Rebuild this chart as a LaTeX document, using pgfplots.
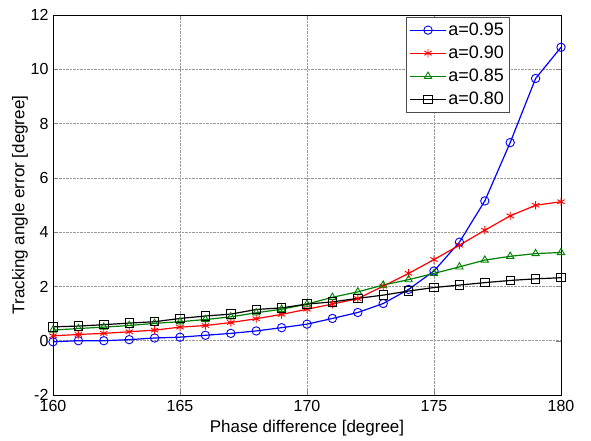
\documentclass[border=0pt]{standalone}
\usepackage{pgfplots}
\pgfplotsset{compat=1.18}
\usepackage{fontspec}
\setmainfont{Liberation Sans}
\definecolor{mgreen}{rgb}{0,0.5,0}
\begin{document}
\begin{tikzpicture}
\begin{axis}[
    scale only axis, width=508pt, height=380pt,
    xmin=160, xmax=180, ymin=-2, ymax=12,
    xtick={160,165,...,180}, ytick={-2,0,...,12},
    tick align=inside, major tick length=5pt,
    grid=major, grid style={densely dotted, gray!80, line width=0.6pt},
    axis line style={line width=0.6pt},
    font=\fontsize{16}{18}\selectfont,
    /pgf/number format/assume math mode=true,
    xticklabel style={yshift=-2pt},
    yticklabel style={xshift=-1pt},
    xlabel={Phase difference [degree]},
    ylabel={Tracking angle error [degree]},
    label style={font=\fontsize{17}{19}\selectfont},
    xlabel style={yshift=-1pt}, ylabel style={yshift=-4pt},
    legend style={at={(0.898,0.995)}, anchor=north east, draw=black!70,
        font=\fontsize{18}{20}\selectfont, inner xsep=3pt, inner ysep=4pt, row sep=5pt},
    legend cell align=left,
    legend image code/.code={
        \draw (0cm,0cm) -- (1.25cm,0cm);
        \draw plot coordinates {(0.625cm,0cm)};},
    every axis plot/.append style={line width=1.2pt, mark size=4.2pt, mark options={solid, line width=0.9pt}},
]
\addplot[blue, mark=o] coordinates {
(160,-0.04) (161,0.0) (162,0.0) (163,0.04) (164,0.1) (165,0.13) (166,0.2)
(167,0.27) (168,0.36) (169,0.48) (170,0.61) (171,0.82) (172,1.04) (173,1.37)
(174,1.89) (175,2.57) (176,3.63) (177,5.15) (178,7.3) (179,9.66) (180,10.81)};
\addlegendentry{a=0.95}
\addplot[red, mark=asterisk] coordinates {
(160,0.18) (161,0.23) (162,0.27) (163,0.33) (164,0.39) (165,0.5) (166,0.56)
(167,0.67) (168,0.81) (169,0.97) (170,1.16) (171,1.35) (172,1.55) (173,2.01)
(174,2.48) (175,2.99) (176,3.52) (177,4.07) (178,4.6) (179,4.99) (180,5.12)};
\addlegendentry{a=0.90}
\addplot[mgreen, mark=triangle] coordinates {
(160,0.39) (161,0.45) (162,0.5) (163,0.56) (164,0.64) (165,0.7) (166,0.78)
(167,0.88) (168,1.03) (169,1.16) (170,1.35) (171,1.6) (172,1.8) (173,2.05)
(174,2.25) (175,2.48) (176,2.72) (177,2.97) (178,3.11) (179,3.21) (180,3.25)};
\addlegendentry{a=0.85}
\addplot[black, mark=square] coordinates {
(160,0.51) (161,0.54) (162,0.59) (163,0.65) (164,0.7) (165,0.82) (166,0.91)
(167,0.98) (168,1.15) (169,1.21) (170,1.35) (171,1.43) (172,1.56) (173,1.68)
(174,1.83) (175,1.96) (176,2.05) (177,2.14) (178,2.22) (179,2.28) (180,2.32)};
\addlegendentry{a=0.80}
\end{axis}
\pgfresetboundingbox
\path (-53pt,-46pt) rectangle (538pt,395pt);
\end{tikzpicture}
\end{document}
